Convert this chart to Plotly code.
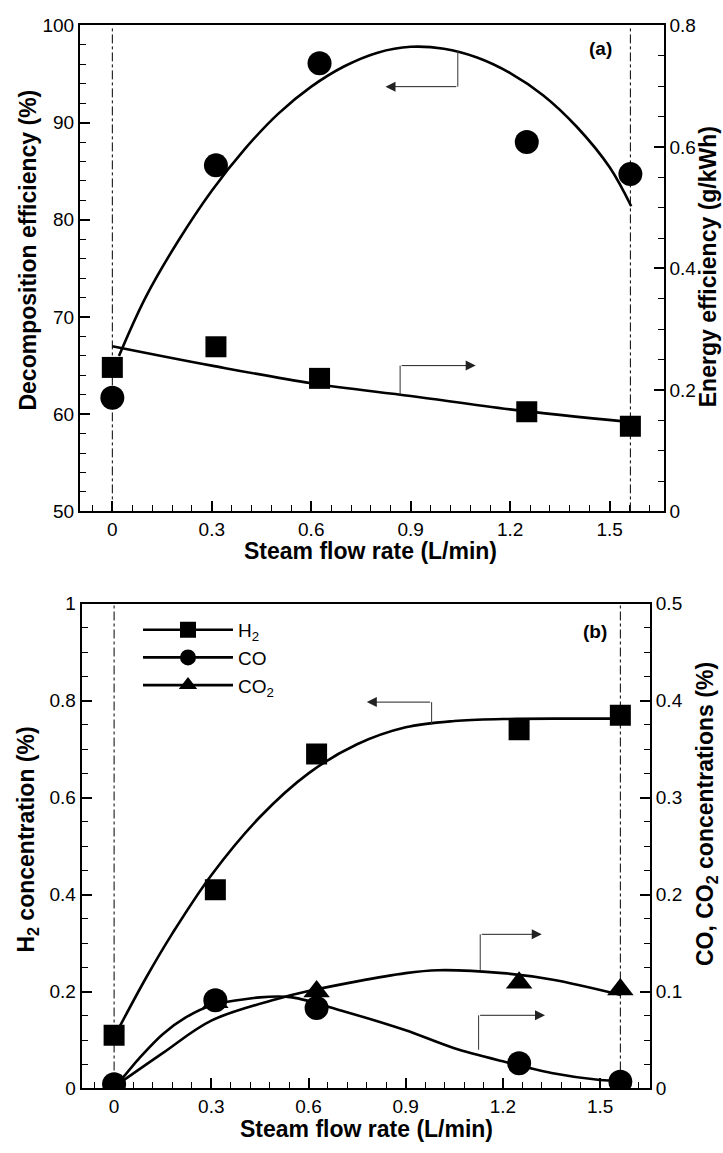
import plotly.graph_objects as go

# ---------------- data ----------------
flow = [0, 0.3125, 0.625, 1.25, 1.5625]

decomp_eff = [61.7, 85.6, 96.1, 88.0, 84.7]          # % (left axis, panel a)
energy_eff = [0.237, 0.271, 0.219, 0.164, 0.140]     # g/kWh (right axis, panel a)

decomp_fit_x = [0.02, 0.1, 0.2, 0.3, 0.4, 0.5, 0.6, 0.7, 0.8, 0.9, 1.0, 1.1, 1.2, 1.3, 1.4, 1.5, 1.565]
decomp_fit_y = [66.0, 72.0, 77.9, 83.0, 87.3, 90.9, 93.7, 95.8, 97.2, 97.8, 97.6, 96.7, 95.1, 92.8, 89.6, 85.4, 81.4]
energy_fit_x = [0, 0.3, 0.6, 0.9, 1.2, 1.565]
energy_fit_y = [0.272, 0.240, 0.211, 0.190, 0.168, 0.147]

h2 = [0.11, 0.41, 0.69, 0.74, 0.77]                  # % (left axis, panel b)
co = [0.0045, 0.091, 0.083, 0.026, 0.007]            # % (right axis, panel b)
co2 = [0.0025, 0.089, 0.100, 0.109, 0.102]           # % (right axis, panel b)

h2_fit_x = [0.015, 0.1, 0.18, 0.3, 0.45, 0.6, 0.75, 0.9, 1.05, 1.2, 1.4, 1.565]
h2_fit_y = [0.125, 0.23, 0.32, 0.44, 0.56, 0.65, 0.71, 0.745, 0.758, 0.762, 0.763, 0.763]
co_fit_x = [0.01, 0.08, 0.15, 0.22, 0.3, 0.45, 0.55, 0.7, 0.9, 1.05, 1.2, 1.35, 1.5, 1.565]
co_fit_y = [0.004, 0.032, 0.056, 0.073, 0.0855, 0.094, 0.094, 0.0805, 0.060, 0.0415, 0.028, 0.016, 0.0088, 0.0078]
co2_fit_x = [0.01, 0.15, 0.3, 0.5, 0.6, 0.9, 1.0, 1.2, 1.35, 1.565]
co2_fit_y = [0.004, 0.0365, 0.070, 0.092, 0.1005, 0.119, 0.122, 0.119, 0.1125, 0.0965]

ref_lines_x = [0, 1.5625]

x_ticks = [0, 0.3, 0.6, 0.9, 1.2, 1.5]

# annotation arrows: (x_stem, y_stem_from, y_level, x_head)
arrow_a_decomp = [1.042, 97.4, 93.7, 0.824]
arrow_a_energy = [0.868, 0.192, 0.240, 1.096]
arrow_b_h2 = [0.98, 0.750, 0.797, 0.78]
arrow_b_co2 = [1.13, 0.1215, 0.159, 1.32]
arrow_b_co = [1.125, 0.040, 0.0755, 1.33]

# ---------------- layout helpers ----------------
W, H = 723, 1153
def px(x):
    return x / W
def py(y):
    return 1 - y / H

FONT = "Arial, Liberation Sans, sans-serif"
BLACK = "#000000"
TICKFONT = dict(family=FONT, size=19, color=BLACK)

fig = go.Figure()

# ---------- panel (a) ----------
for xv in ref_lines_x:
    fig.add_shape(type="line", xref="x", yref="y domain", x0=xv, x1=xv, y0=0, y1=1,
                  line=dict(color=BLACK, width=1, dash="dashdot"), layer="below")

fig.add_trace(go.Scatter(x=decomp_fit_x, y=decomp_fit_y, mode="lines", line=dict(color=BLACK, width=2.6, shape="spline"),
                         xaxis="x", yaxis="y", showlegend=False, hoverinfo="skip"))
fig.add_trace(go.Scatter(x=flow, y=decomp_eff, mode="markers", marker=dict(symbol="circle", size=24, color=BLACK),
                         xaxis="x", yaxis="y", showlegend=False))
fig.add_trace(go.Scatter(x=energy_fit_x, y=energy_fit_y, mode="lines", line=dict(color=BLACK, width=2.6, shape="spline"),
                         xaxis="x", yaxis="y2", showlegend=False, hoverinfo="skip"))
fig.add_trace(go.Scatter(x=flow, y=energy_eff, mode="markers", marker=dict(symbol="square", size=21, color=BLACK),
                         xaxis="x", yaxis="y2", showlegend=False))

# ---------- panel (b) ----------
for xv in ref_lines_x:
    fig.add_shape(type="line", xref="x2", yref="y3 domain", x0=xv, x1=xv, y0=0, y1=1,
                  line=dict(color=BLACK, width=1, dash="dashdot"), layer="below")

fig.add_trace(go.Scatter(x=h2_fit_x, y=h2_fit_y, mode="lines", line=dict(color=BLACK, width=2.6, shape="spline"),
                         xaxis="x2", yaxis="y3", showlegend=False, hoverinfo="skip"))
fig.add_trace(go.Scatter(x=co_fit_x, y=co_fit_y, mode="lines", line=dict(color=BLACK, width=2.6, shape="spline", smoothing=0.8),
                         xaxis="x2", yaxis="y4", showlegend=False, hoverinfo="skip"))
fig.add_trace(go.Scatter(x=co2_fit_x, y=co2_fit_y, mode="lines", line=dict(color=BLACK, width=2.6, shape="spline"),
                         xaxis="x2", yaxis="y4", showlegend=False, hoverinfo="skip"))
fig.add_trace(go.Scatter(x=flow, y=h2, mode="markers", marker=dict(symbol="square", size=21, color=BLACK),
                         xaxis="x2", yaxis="y3", showlegend=False))
fig.add_trace(go.Scatter(x=flow, y=co2, mode="markers", marker=dict(symbol="triangle-up", size=23, color=BLACK),
                         xaxis="x2", yaxis="y4", showlegend=False))
fig.add_trace(go.Scatter(x=flow, y=co, mode="markers", marker=dict(symbol="circle", size=24, color=BLACK),
                         xaxis="x2", yaxis="y4", showlegend=False))

# legend-only entries
for name, sym, size in [("H<sub>2</sub>", "square", 21), ("CO", "circle", 24), ("CO<sub>2</sub>", "triangle-up", 23)]:
    fig.add_trace(go.Scatter(x=[None], y=[None], mode="lines+markers", name=name,
                             line=dict(color=BLACK, width=2.6),
                             marker=dict(symbol=sym, size=size, color=BLACK),
                             xaxis="x2", yaxis="y3"))

# ---------- arrows ----------
def add_arrow(spec, xref, yref):
    xs, y0, ylev, xh = spec
    fig.add_shape(type="line", xref=xref, yref=yref, x0=xs, x1=xs, y0=y0, y1=ylev,
                  line=dict(color="#333333", width=1))
    fig.add_annotation(x=xh, y=ylev, ax=xs, ay=ylev, xref=xref, yref=yref, axref=xref, ayref=yref,
                       text="", showarrow=True, arrowhead=2, arrowsize=2.0, arrowwidth=1,
                       arrowcolor="#222222")

add_arrow(arrow_a_decomp, "x", "y")
add_arrow(arrow_a_energy, "x", "y2")
add_arrow(arrow_b_h2, "x2", "y3")
add_arrow(arrow_b_co2, "x2", "y4")
add_arrow(arrow_b_co, "x2", "y4")

# ---------- axes ----------
def xaxis_common(dom, rng, anchor):
    return dict(domain=dom, range=rng, anchor=anchor, tickmode="array", tickvals=x_ticks,
                ticktext=[f"{v:g}" for v in x_ticks],
                ticks="inside", ticklen=10, tickwidth=1.5, tickcolor=BLACK,
                minor=dict(dtick=0.06, tick0=0, ticks="inside", ticklen=6, tickwidth=1, tickcolor=BLACK),
                showline=True, linewidth=2, linecolor=BLACK, mirror=True,
                showgrid=False, zeroline=False, tickfont=TICKFONT)

def yaxis_common(dom, rng, dtick, minor, side, anchor, overlaying=None):
    d = dict(domain=dom, range=rng, dtick=dtick, tick0=0, anchor=anchor, side=side,
             ticks="inside", ticklen=10, tickwidth=1.5, tickcolor=BLACK,
             minor=dict(dtick=minor, tick0=0, ticks="inside", ticklen=6, tickwidth=1, tickcolor=BLACK),
             showline=True, linewidth=2, linecolor=BLACK,
             showgrid=False, zeroline=False, tickfont=TICKFONT)
    if overlaying:
        d["overlaying"] = overlaying
    return d

a_x = [px(80), px(663.7)]
a_y = [py(510.7), py(15.7)]
b_x = [px(81.7), px(650)]
b_y = [py(1098.5), py(604.7)]

fig.update_layout(
    xaxis=xaxis_common(a_x, [-0.0975, 1.663], "y"),
    yaxis=yaxis_common(a_y, [50, 100], 10, 2, "left", "x"),
    yaxis2=yaxis_common(a_y, [0, 0.8], 0.2, 0.05, "right", "x", overlaying="y"),
    xaxis2=xaxis_common(b_x, [-0.1, 1.654], "y3"),
    yaxis3=yaxis_common(b_y, [0, 1], 0.2, 0.05, "left", "x2"),
    yaxis4=yaxis_common(b_y, [0, 0.5], 0.1, 0.025, "right", "x2", overlaying="y3"),
)

# ---------- text ----------
TITLEFONT = dict(family=FONT, size=23, color=BLACK, weight="bold")
texts = [
    ("Decomposition efficiency (%)", px(28), py(245), -90),
    ("Energy efficiency (g/kWh)", px(708), py(262), -90),
    ("Steam flow rate (L/min)", px(371), py(551), 0),
    ("H<sub>2</sub> concentration (%)", px(28), py(845), -90),
    ("CO, CO<sub>2</sub> concentrations (%)", px(706), py(819), -90),
    ("Steam flow rate (L/min)", px(366), py(1140), 0),
]
for t, x, y, ang in texts:
    fig.add_annotation(text=t, x=x, y=y, xref="paper", yref="paper", showarrow=False,
                       textangle=ang, font=TITLEFONT, xanchor="center", yanchor="middle")

for t, x, y in [("(a)", px(600), py(39)), ("(b)", px(595), py(633))]:
    fig.add_annotation(text=t, x=x, y=y, xref="paper", yref="paper", showarrow=False,
                       font=dict(family=FONT, size=19, color=BLACK, weight="bold"),
                       xanchor="center", yanchor="middle")

fig.update_layout(
    width=W, height=H,
    margin=dict(l=0, r=0, t=0, b=0),
    paper_bgcolor="white", plot_bgcolor="white",
    font=dict(family=FONT, color=BLACK),
    showlegend=True,
    legend=dict(x=px(138), y=py(612), xanchor="left", yanchor="top",
                bgcolor="rgba(0,0,0,0)", borderwidth=0,
                font=dict(family=FONT, size=19, color=BLACK),
                itemwidth=90, tracegroupgap=0),
)

fig.write_html("out.html", config={"displayModeBar": False},
               post_script="document.body.style.margin='0';document.body.style.padding='0';document.documentElement.style.overflow='hidden';")
